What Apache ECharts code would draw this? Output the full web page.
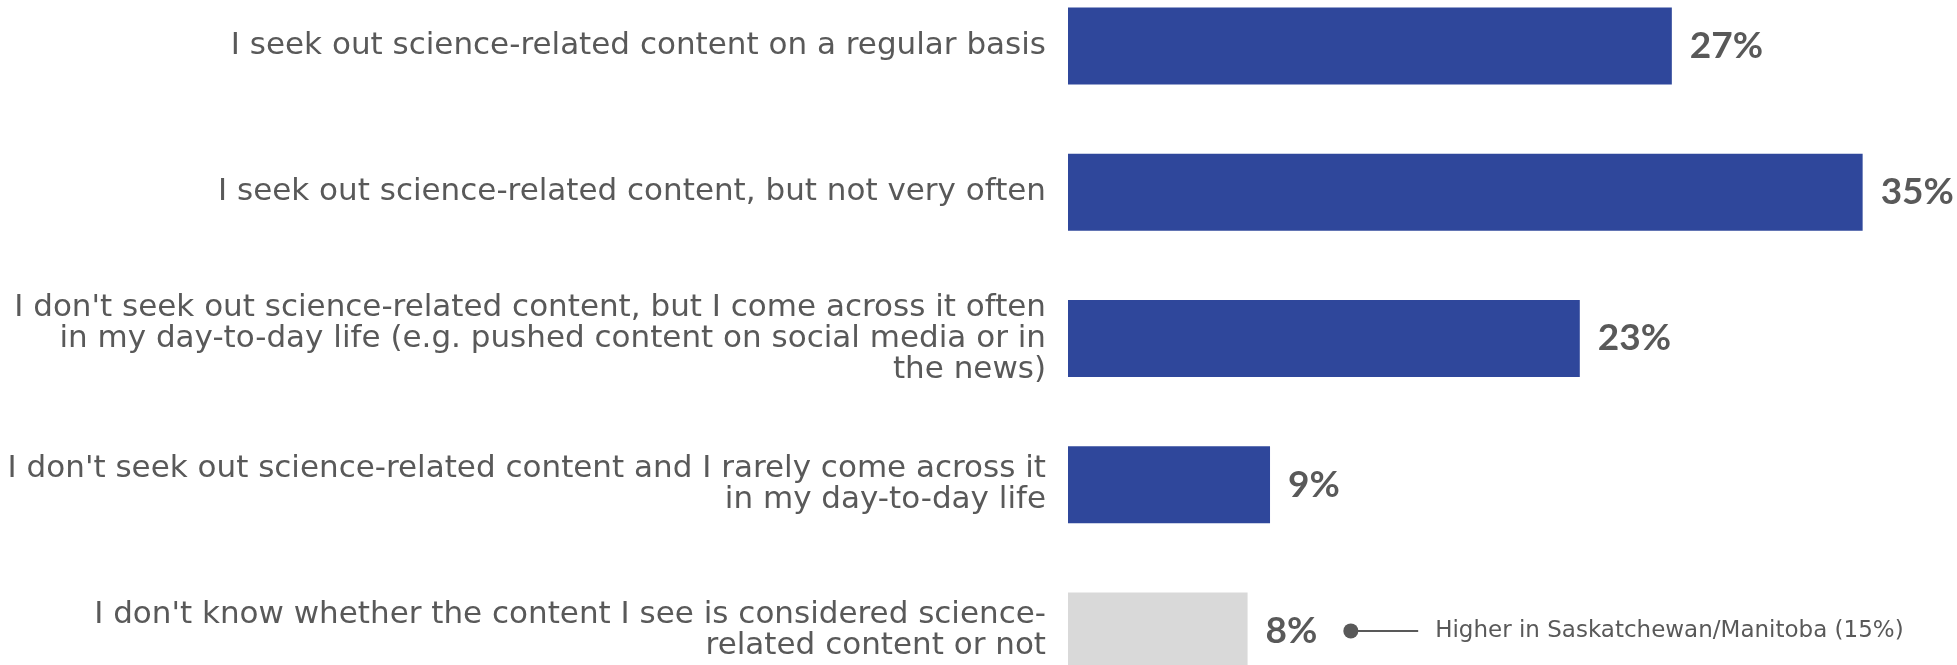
<!DOCTYPE html>
<html>
<head>
<meta charset="utf-8">
<script src="https://cdn.jsdelivr.net/npm/echarts@6/dist/echarts.min.js"></script>
<style>
  html, body { margin: 0; padding: 0; background: #ffffff; }
  #chart { width: 1957px; height: 665px; }
</style>
</head>
<body>
<div id="chart"></div>
<script>
// ---- Data ----
const categories = [
  "I seek out science-related content on a regular basis",
  "I seek out science-related content, but not very often",
  "I don't seek out science-related content, but I come across it often\nin my day-to-day life (e.g. pushed content on social media or in\nthe news)",
  "I don't seek out science-related content and I rarely come across it\nin my day-to-day life",
  "I don't know whether the content I see is considered science-\nrelated content or not"
];
const values = [26.9, 35.4, 22.8, 9.0, 8.0];
const valueLabels = ["27%", "35%", "23%", "9%", "8%"];
const barColors = ["#2F479B", "#2F479B", "#2F479B", "#2F479B", "#D9D9D9"];
const noteText = "Higher in Saskatchewan/Manitoba (15%)";
const noteCategory = 4;
const noteFrom = 12.6;
const noteTo = 15.6;

// ---- Chart ----
const chart = echarts.init(document.getElementById('chart'), null, { renderer: 'canvas' });
const option = {
  animation: false,
  backgroundColor: '#ffffff',
  grid: { left: 1068, right: 36, top: -27, bottom: -39, containLabel: false, outerBoundsMode: 'none' },
  xAxis: {
    type: 'value', min: 0, max: 38,
    show: false
  },
  yAxis: {
    type: 'category',
    inverse: true,
    data: categories,
    axisLine: { show: false },
    axisTick: { show: false },
    splitLine: { show: false },
    axisLabel: {
      margin: 22,
      align: 'right',
      color: '#595959',
      fontFamily: 'DejaVu Sans',
      fontSize: 31,
      lineHeight: 31
    }
  },
  series: [{
    type: 'bar',
    barWidth: 77,
    data: values.map((v, i) => ({ value: v, itemStyle: { color: barColors[i] } })),
    label: {
      show: true,
      position: 'right',
      distance: 18,
      formatter: p => valueLabels[p.dataIndex],
      color: '#595959',
      fontFamily: 'Lato',
      fontWeight: 'bold',
      fontSize: 37
    },
    markLine: {
      silent: true,
      symbol: ['circle', 'none'],
      symbolSize: 15,
      lineStyle: { color: '#595959', width: 2, type: 'solid' },
      label: {
        show: true,
        position: 'end',
        distance: 17,
        formatter: noteText,
        color: '#595959',
        fontFamily: 'DejaVu Sans',
        fontSize: 23
      },
      data: [[
        { coord: [noteFrom, categories[noteCategory]], symbol: 'circle', symbolSize: 15 },
        { coord: [noteTo, categories[noteCategory]], symbol: 'none' }
      ]]
    }
  }]
};
chart.setOption(option);
</script>
</body>
</html>
